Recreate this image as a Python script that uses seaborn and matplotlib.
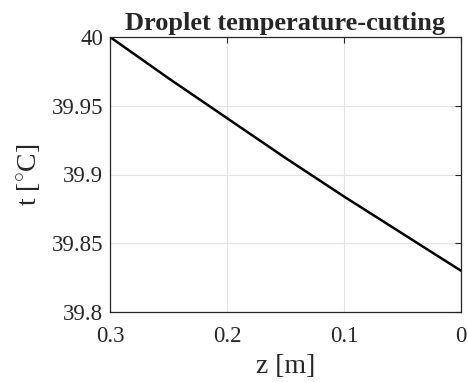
import matplotlib
matplotlib.use("Agg")
import matplotlib.pyplot as plt
import seaborn as sns
import pandas as pd

z = [0.3, 0.25, 0.2, 0.15, 0.1, 0.05, 0.0]
t = [40.0, 39.970, 39.941, 39.912, 39.884, 39.857, 39.830]
xticks = [0.3, 0.2, 0.1, 0.0]
xticklabels = ["0.3", "0.2", "0.1", "0"]
yticks = [39.8, 39.85, 39.9, 39.95, 40.0]
yticklabels = ["39.8", "39.85", "39.9", "39.95", "40"]

sns.set_theme(style="white")
plt.rcParams['font.family'] = ['Liberation Serif', 'DejaVu Serif']
plt.rcParams['mathtext.fontset'] = 'custom'
plt.rcParams['mathtext.rm'] = 'Liberation Serif'

fig = plt.figure(figsize=(4.68, 3.82), dpi=100)
ax = fig.add_axes([110/468, 1-312/382, (461-110)/468, (312-37)/382])
df = pd.DataFrame({"z": z, "t": t})
sns.lineplot(data=df, x="z", y="t", ax=ax, color="black", linewidth=1.8, sort=False)

ax.set_xlim(0.3, 0.0)
ax.set_ylim(39.8, 40.0)
ax.set_xticks(xticks)
ax.set_xticklabels(xticklabels)
ax.set_yticks(yticks)
ax.set_yticklabels(yticklabels)
ax.grid(True, color="#e3e3e3", linewidth=0.8)
ax.tick_params(direction="in", length=4, width=0.8, colors="#262626", labelsize=16.5,
               top=True, right=True, labelcolor="#262626")
ax.tick_params(axis="x", pad=10)
ax.tick_params(axis="y", pad=5)
for s in ax.spines.values():
    s.set_color("#262626")
    s.set_linewidth(0.9)
ax.set_xlabel("z [m]", fontsize=20, color="#262626", labelpad=5)
ax.set_ylabel(r"t [$^{\circ}$C]", fontsize=20, color="#262626", labelpad=6)
ax.set_title("Droplet temperature-cutting", fontsize=19, fontweight="bold", pad=5)
fig.savefig("out.png", dpi=100)
